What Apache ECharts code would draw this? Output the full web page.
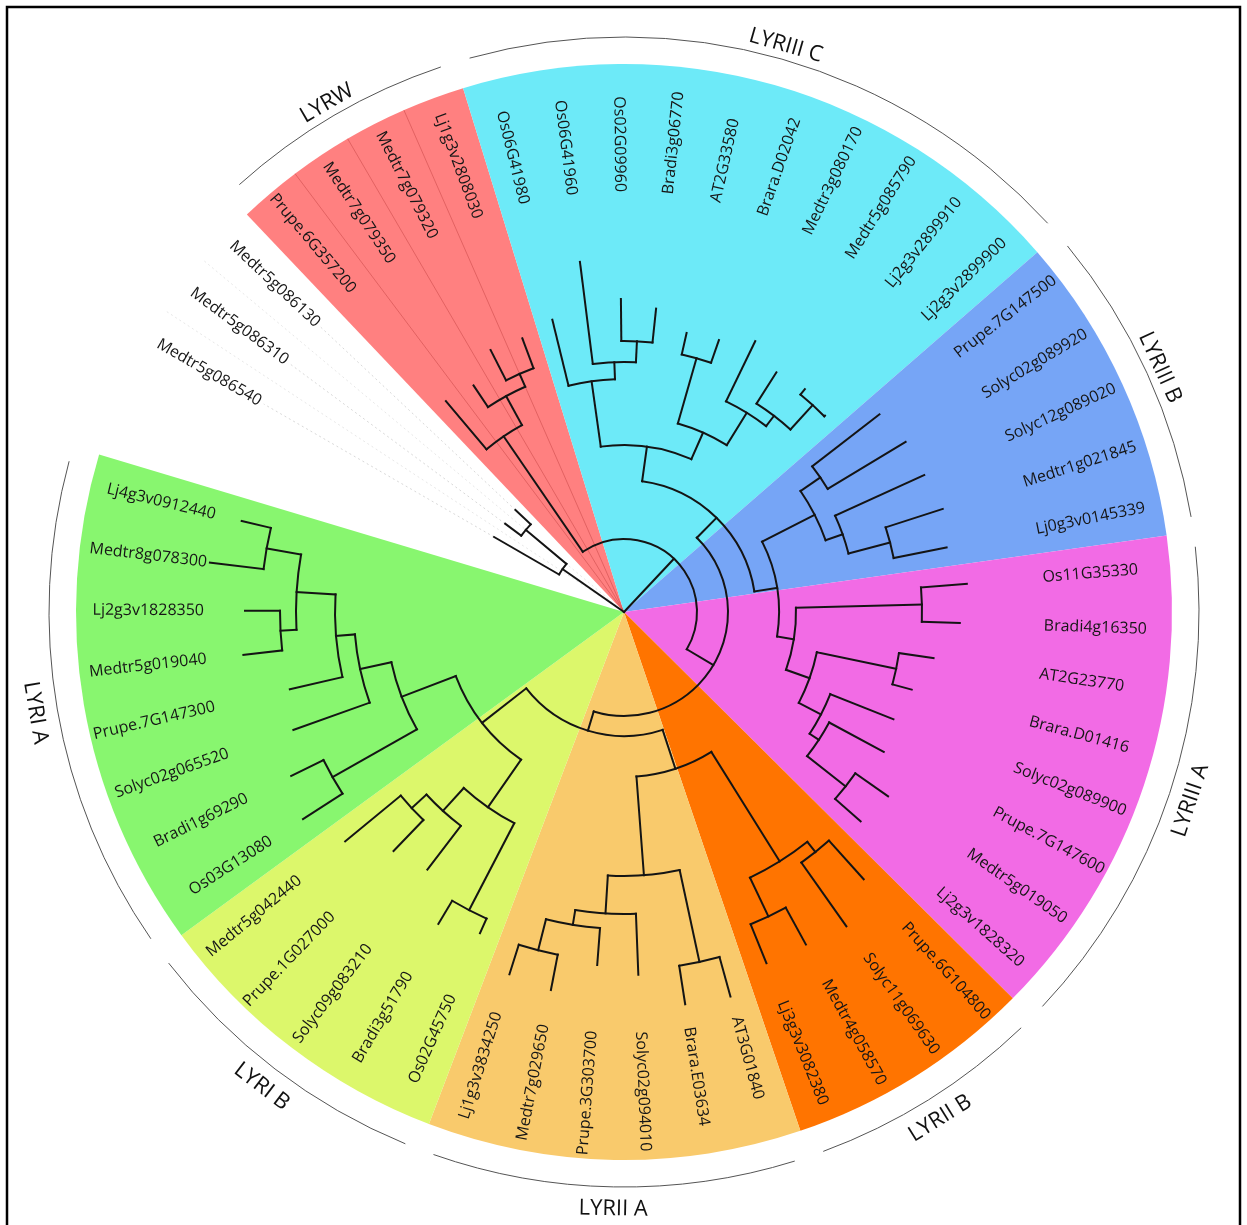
<!DOCTYPE html>
<html>
<head>
<meta charset="utf-8">
<script src="https://cdn.jsdelivr.net/npm/echarts@6/dist/echarts.min.js"></script>
<style>
html,body{margin:0;padding:0;background:#fff;}
#chart{width:1247px;height:1225px;}
</style>
</head>
<body>
<div id="chart"></div>
<script>
// ---------------- DATA ----------------
// leaves in clockwise order (starting with the three ungrouped Medtr5 leaves)
const leafNames = [
  'Medtr5g086540','Medtr5g086310','Medtr5g086130',
  'Prupe.6G357200','Medtr7g079350','Medtr7g079320','Lj1g3v2808030',
  'Os06G41980','Os06G41960','Os02G09960','Bradi3g06770','AT2G33580','Brara.D02042',
  'Medtr3g080170','Medtr5g085790','Lj2g3v2899910','Lj2g3v2899900',
  'Prupe.7G147500','Solyc02g089920','Solyc12g089020','Medtr1g021845','Lj0g3v0145339',
  'Os11G35330','Bradi4g16350','AT2G23770','Brara.D01416','Solyc02g089900','Prupe.7G147600',
  'Medtr5g019050','Lj2g3v1828320',
  'Prupe.6G104800','Solyc11g069630','Medtr4g058570','Lj3g3v3082380',
  'AT3G01840','Brara.E03634','Solyc02g094010','Prupe.3G303700','Medtr7g029650','Lj1g3v3834250',
  'Os02G45750','Bradi3g51790','Solyc09g083210','Prupe.1G027000','Medtr5g042440',
  'Os03G13080','Bradi1g69290','Solyc02g065520','Prupe.7G147300','Medtr5g019040',
  'Lj2g3v1828350','Medtr8g078300','Lj4g3v0912440'
];
// distance of each leaf tip from the root (radius-axis units)
const leafTipDist = [
  150,148,149,
  276,272,294,292,
  301,353,313,305,286,288,301,284,287,281,
  323,329,330,335,329,
  344,336,313,298,290,295,322,316,
  359,385,379,379,
  399,397,363,354,385,380,
  352,363,324,332,361,
  382,371,351,343,383,379,417,393
];
// clades (sectors), in the same clockwise order; '' = not coloured
const groupNames = ['', 'LYRW', 'LYRIII C', 'LYRIII B', 'LYRIII A', 'LYRII B', 'LYRII A', 'LYRI B', 'LYRI A'];
const groupSizes = [3, 4, 10, 5, 8, 4, 6, 5, 8];
// internal nodes: name, distance from root, children (leaf index or node name)
const nodeNames = ['root','Wn','Wn2','X','LW','LW2','LW3','Y','Z1','C1','C2','C4','C5','C3','C6','C7','C8','C9',
  'Z2','B1','B2','B3','B4','A1','A2','A3','A4','A5','A6','A7','P','Q2','IIB1','IIB2','IIB3',
  'IIA1','IIA2','IIA3','IIA4','IIA5','Q1','IB1','IB3','IB2','IB4','IA1','IA3','IA2','IA4','IA5','IA6','IA7'];
const nodeDist = [0,75,128,73,213,246,260,104,132,167,233,250,271,196,264,234,247,280,
  155,214,238,232,275,172,298,197,278,222,233,282,124,165,294,307,337,
  264,358,302,317,349,180,238,336,269,289,238,335,270,289,328,344,363];
const nodeKids = [
  ['Wn','X'],[0,'Wn2'],[1,2],['LW','Y'],[3,'LW2'],[4,'LW3'],[5,6],
  ['Z1','P'],['C1','Z2'],['C2','C3'],[7,'C4'],[8,'C5'],[9,10],['C6','C7'],[11,12],[13,'C8'],[14,'C9'],[15,16],
  ['B1','A1'],['B2','B3'],[17,18],[19,'B4'],[20,21],
  ['A2','A3'],[22,23],['A4','A5'],[24,25],[26,'A6'],[27,'A7'],[28,29],
  ['Q2','Q1'],['IIB1','IIA1'],['IIB2','IIB3'],[30,31],[32,33],
  ['IIA2','IIA3'],[34,35],[36,'IIA4'],[37,'IIA5'],[38,39],
  ['IB1','IA1'],['IB3','IB2'],[40,41],[42,'IB4'],[43,44],
  ['IA3','IA2'],[45,46],[47,'IA4'],[48,'IA5'],['IA6','IA7'],[49,50],[51,52]
];

// ---------------- STYLE / LAYOUT ----------------
const groupColors = [null,'#ff8080','#6deaf8','#76a5f6','#f26be5','#ff7400','#f9ca6c','#dcf76b','#88f66f'];
const START_ANGLE = 300, STEP = 350 / 53;
const SECTOR_R = 548, LABEL_R = 420, RING_R = 575, GLABEL_TOP_R = 589, GLABEL_BOT_R = 597;
const TREE_COLOR = '#141414';
const LABEL_FONT = 'Open Sans';

const nodeIndex = {};
nodeNames.forEach((n, i) => { nodeIndex[n] = i; });
const leafAngle = leafNames.map((_, i) => START_ANGLE + i * STEP);
const nodeAngle = {};
function angleOf(k) {
  if (typeof k === 'number') return leafAngle[k];
  if (nodeAngle[k] !== undefined) return nodeAngle[k];
  const a = nodeKids[nodeIndex[k]].map(angleOf);
  nodeAngle[k] = (Math.min(...a) + Math.max(...a)) / 2;
  return nodeAngle[k];
}
function distOf(k) { return typeof k === 'number' ? leafTipDist[k] : nodeDist[nodeIndex[k]]; }

const radialData = [];   // [r0, angle, r1]
const arcData = [];      // [r, a0, a1]
nodeNames.forEach((n, i) => {
  const kids = nodeKids[i];
  const angs = kids.map(angleOf);
  kids.forEach(k => radialData.push([nodeDist[i], angleOf(k), distOf(k)]));
  if (nodeDist[i] > 0) arcData.push([nodeDist[i], Math.min(...angs), Math.max(...angs)]);
});

const groupData = [];    // [groupIndex, a0, a1]
const sepData = [];      // [angle, kind]
(function () {
  let idx = 0;
  groupSizes.forEach((s, g) => {
    groupData.push([g, leafAngle[idx] - STEP / 2, leafAngle[idx + s - 1] + STEP / 2]);
    for (let j = idx; j < idx + s - 1; j++) sepData.push([leafAngle[j] + STEP / 2, g]);
    idx += s;
  });
})();
const labelData = leafNames.map((n, i) => [LABEL_R, leafAngle[i], i]);
const guideData = leafNames.map((n, i) => [leafTipDist[i], leafAngle[i], i]).filter(d => d[2] < groupSizes[0]);

// ---------------- helpers ----------------
function norm(a) { return ((a % 360) + 360) % 360; }
function P(api, r, a) { return api.coord([r, norm(a)]); }
function centre(api) { return api.coord([0, 0]); }
function arcShape(api, r, a0, a1) {
  const c = centre(api), p0 = P(api, r, a0), p1 = P(api, r, a1);
  let s = Math.atan2(p0[1] - c[1], p0[0] - c[0]);
  let e = Math.atan2(p1[1] - c[1], p1[0] - c[0]);
  while (e <= s) e += 2 * Math.PI;
  return { cx: c[0], cy: c[1], r: Math.hypot(p0[0] - c[0], p0[1] - c[1]), startAngle: s, endAngle: e, clockwise: true };
}

const chart = echarts.init(document.getElementById('chart'), null, { renderer: 'canvas' });
chart.setOption({
  animation: false,
  backgroundColor: '#ffffff',
  polar: { center: [624, 612], radius: 600 },
  radiusAxis: { min: 0, max: 600, show: false, axisLine: { show: false }, axisTick: { show: false }, axisLabel: { show: false }, splitLine: { show: false } },
  angleAxis: { type: 'value', min: 0, max: 360, startAngle: 90, clockwise: true, show: false,
    axisLine: { show: false }, axisTick: { show: false }, axisLabel: { show: false }, splitLine: { show: false } },
  graphic: [{
    type: 'rect', silent: true, z: 100,
    shape: { x: 7, y: 7, width: 1233, height: 1240 },
    style: { fill: 'none', stroke: '#000', lineWidth: 2.5 }
  }],
  series: [
    { // coloured sectors
      type: 'custom', coordinateSystem: 'polar', silent: true, data: groupData,
      renderItem: (params, api) => {
        const g = api.value(0);
        if (!groupColors[g]) return { type: 'group', children: [] };
        const sh = arcShape(api, SECTOR_R, api.value(1), api.value(2));
        return { type: 'sector', shape: { cx: sh.cx, cy: sh.cy, r0: 0, r: sh.r, startAngle: sh.startAngle, endAngle: sh.endAngle, clockwise: true },
          style: { fill: groupColors[g], stroke: null } };
      }
    },
    { // thin separators between leaves
      type: 'custom', coordinateSystem: 'polar', silent: true, data: sepData,
      renderItem: (params, api) => {
        const g = api.value(1);
        if (g > 1) return { type: 'group', children: [] };
        const c = centre(api), p = P(api, SECTOR_R, api.value(0));
        return { type: 'line', shape: { x1: c[0], y1: c[1], x2: p[0], y2: p[1] },
          style: g === 1 ? { stroke: 'rgba(190,60,60,0.45)', lineWidth: 1 } : { stroke: 'rgba(215,215,215,0.6)', lineWidth: 1, lineDash: [2, 3] } };
      }
    },
    { // dotted guides for uncoloured leaves
      type: 'custom', coordinateSystem: 'polar', silent: true, data: guideData,
      renderItem: (params, api) => {
        const p0 = P(api, api.value(0), api.value(1)), p1 = P(api, LABEL_R - 4, api.value(1));
        return { type: 'line', shape: { x1: p0[0], y1: p0[1], x2: p1[0], y2: p1[1] },
          style: { stroke: 'rgba(200,200,200,0.7)', lineWidth: 1, lineDash: [2, 3] } };
      }
    },
    { // group ring arcs
      type: 'custom', coordinateSystem: 'polar', silent: true, data: groupData,
      renderItem: (params, api) => {
        const g = api.value(0);
        if (!groupNames[g]) return { type: 'group', children: [] };
        return { type: 'arc', shape: arcShape(api, RING_R, api.value(1) + 1.5, api.value(2) - 1.5),
          style: { stroke: '#555', lineWidth: 1, fill: 'none' } };
      }
    },
    { // group labels
      type: 'custom', coordinateSystem: 'polar', silent: true, data: groupData,
      renderItem: (params, api) => {
        const g = api.value(0);
        if (!groupNames[g]) return { type: 'group', children: [] };
        const mid = (api.value(1) + api.value(2)) / 2, b = norm(mid);
        const top = (b < 90 || b >= 270);
        const p = P(api, top ? GLABEL_TOP_R : GLABEL_BOT_R, mid), c = centre(api);
        const phi = Math.atan2(-(p[1] - c[1]), p[0] - c[0]);
        return { type: 'text', x: p[0], y: p[1], rotation: top ? phi - Math.PI / 2 : phi + Math.PI / 2,
          style: { text: groupNames[g], fill: '#111', fontSize: 22, fontFamily: LABEL_FONT, align: 'center', verticalAlign: 'middle' } };
      }
    },
    { // radial branches
      type: 'custom', coordinateSystem: 'polar', silent: true, data: radialData,
      renderItem: (params, api) => {
        const a = api.value(1);
        const p0 = P(api, api.value(0), a), p1 = P(api, api.value(2), a);
        return { type: 'line', shape: { x1: p0[0], y1: p0[1], x2: p1[0], y2: p1[1] },
          style: { stroke: TREE_COLOR, lineWidth: 2, lineCap: 'square' } };
      }
    },
    { // node arcs
      type: 'custom', coordinateSystem: 'polar', silent: true, data: arcData,
      renderItem: (params, api) => {
        return { type: 'arc', shape: arcShape(api, api.value(0), api.value(1), api.value(2)),
          style: { stroke: TREE_COLOR, lineWidth: 2, fill: 'none', lineCap: 'square' } };
      }
    },
    { // leaf labels
      type: 'custom', coordinateSystem: 'polar', silent: true, data: labelData,
      renderItem: (params, api) => {
        const a = api.value(1), b = norm(a);
        const p = P(api, api.value(0), a), c = centre(api);
        const phi = Math.atan2(-(p[1] - c[1]), p[0] - c[0]);
        const right = b > 0 && b < 180;
        return { type: 'text', x: p[0], y: p[1], rotation: right ? phi : phi + Math.PI,
          style: { text: leafNames[api.value(2)], fill: '#161616', fontSize: 16, fontFamily: LABEL_FONT,
            align: right ? 'left' : 'right', verticalAlign: 'middle' } };
      }
    }
  ]
});
</script>
</body>
</html>
